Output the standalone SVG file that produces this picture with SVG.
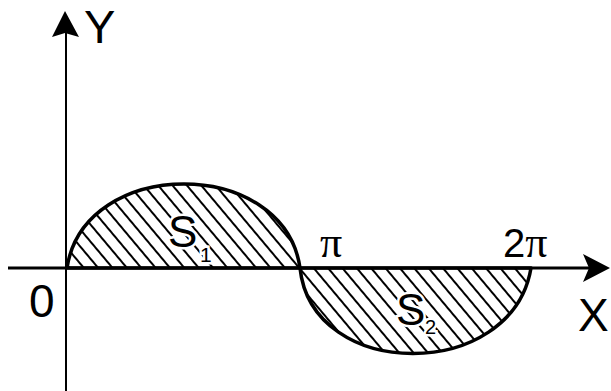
<svg xmlns="http://www.w3.org/2000/svg" width="611" height="391" viewBox="0 0 611 391">
<style>
.lbl{font-family:"Liberation Sans",Arial,sans-serif;fill:#000}
.pi{font-family:"Liberation Serif","Times New Roman",serif}
.curve{fill:url(#hatch);stroke:#000;stroke-width:3.5;stroke-linejoin:round}
.axis{stroke:#000;fill:none}
.knock{stroke:#fff;stroke-width:5;paint-order:stroke}
</style>
<defs>
<pattern id="hatch" width="11" height="11" patternUnits="userSpaceOnUse" patternTransform="rotate(-40)">
<rect width="11" height="11" fill="#fff"/>
<line x1="2" y1="0" x2="2" y2="11" stroke="#000" stroke-width="2"/>
</pattern>
</defs>
<rect width="611" height="391" fill="#fff"/>
<g id="regions">
<path id="s1-region" class="curve" d="M67,268 C84,156 284,156 300,268 Z"/>
<path id="s2-region" class="curve" d="M300,268 C312,382 512,382 531,268 Z"/>
</g>
<g id="connectors">
<line class="axis" x1="66" y1="30" x2="66" y2="391" stroke-width="2" stroke="#333"/>
<polygon points="65,11 52,37 65,33 79,37" fill="#000"/>
<line class="axis" x1="8" y1="268" x2="592" y2="268" stroke-width="3"/>
<polygon points="610,268 583,254 589,268 583,282" fill="#000"/>
</g>
<g id="labels">
<text class="lbl" x="84" y="43" font-size="47">Y</text>
<text class="lbl" x="578" y="331" font-size="46">X</text>
<text class="lbl" x="29" y="317" font-size="46">0</text>
<text class="lbl pi" x="320" y="257" font-size="44">π</text>
<text class="lbl" x="503" y="257" font-size="40">2<tspan class="pi" font-size="44">π</tspan></text>
<text class="lbl knock" x="168" y="247" font-size="44">S</text>
<text class="lbl knock" x="200" y="262" font-size="21">1</text>
<text class="lbl knock" x="396" y="325" font-size="44">S</text>
<text class="lbl knock" x="425" y="334" font-size="20">2</text>
</g>
</svg>
